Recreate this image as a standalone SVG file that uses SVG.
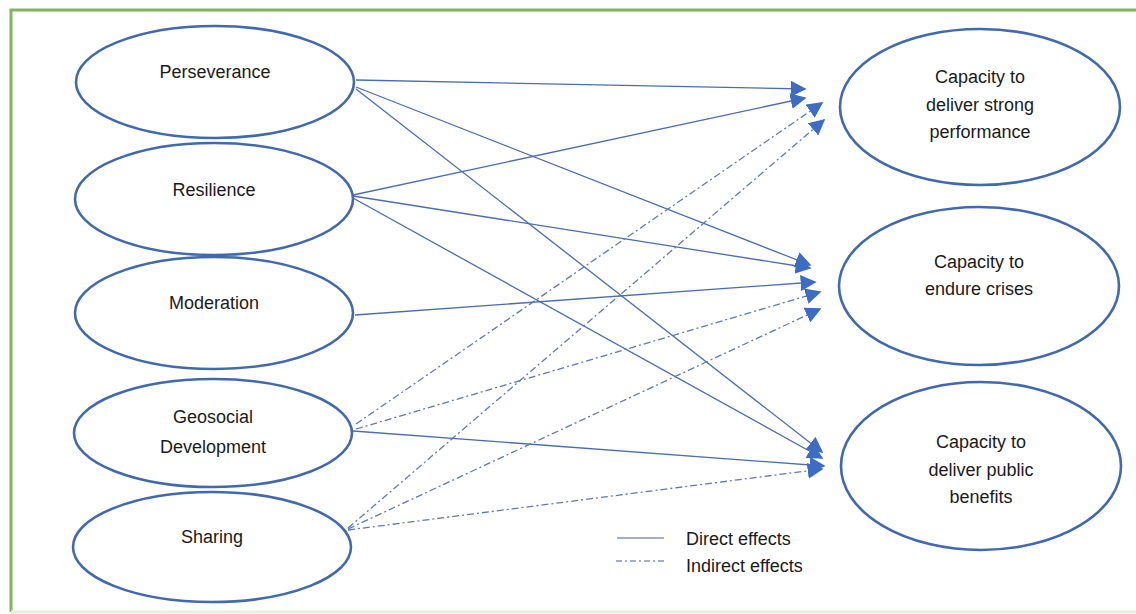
<svg xmlns="http://www.w3.org/2000/svg" width="1136" height="614" viewBox="0 0 1136 614">
  <style>
    .node ellipse { fill: #ffffff; stroke: #4169ad; stroke-width: 2.6; }
    .node text, .legend text { font-family: "Liberation Sans", Arial, sans-serif; font-size: 18px; fill: #1a1a1a; text-anchor: middle; }
    .legend text { text-anchor: start; }
    .direct { fill: none; stroke: #4a6db0; stroke-width: 1.3; marker-end: url(#arrow); }
    .indirect { fill: none; stroke: #5f7ab0; stroke-width: 1.3; stroke-dasharray: 7 3 2 3; marker-end: url(#arrow); }
    .frame { fill: none; stroke: #84b35e; stroke-width: 3; }
  </style>
  <defs>
    <marker id="arrow" viewBox="0 0 10 10" refX="9" refY="5" markerWidth="16" markerHeight="16" markerUnits="userSpaceOnUse" orient="auto">
      <path d="M0,0 L10,5 L0,10 Z" fill="#3d6cc4"/>
    </marker>
  </defs>

  <rect x="0" y="0" width="1136" height="614" fill="#ffffff"/>
  <!-- frame: top and left edges, faint bottom edge -->
  <path class="frame" d="M11,612 L11,10 L1136,10"/>
  <line x1="11" y1="612" x2="1136" y2="612" stroke="#e3f0dc" stroke-width="3"/>

  <!-- connectors -->
  <g id="connectors">
    <!-- direct effects -->
    <path class="direct" d="M356,80 L805,89"/>
    <path class="direct" d="M356,87 L810,265"/>
    <path class="direct" d="M356,89 L822,452"/>
    <path class="direct" d="M353,195 L805,98"/>
    <path class="direct" d="M353,196 L810,268"/>
    <path class="direct" d="M353,198 L822,458"/>
    <path class="direct" d="M355,315 L815,282"/>
    <path class="direct" d="M353,431 L824,466"/>
    <!-- indirect effects -->
    <path class="indirect" d="M356,424 L822,103"/>
    <path class="indirect" d="M356,429 L820,292"/>
    <path class="indirect" d="M348,528 L824,120"/>
    <path class="indirect" d="M348,529 L820,309"/>
    <path class="indirect" d="M348,530 L822,469"/>
  </g>

  <!-- source constructs -->
  <g id="perseverance" class="node">
    <ellipse cx="215" cy="82" rx="139" ry="56"/>
    <text x="215" y="78">Perseverance</text>
  </g>
  <g id="resilience" class="node">
    <ellipse cx="214" cy="199" rx="139" ry="56"/>
    <text x="214" y="196">Resilience</text>
  </g>
  <g id="moderation" class="node">
    <ellipse cx="214" cy="313" rx="139" ry="56"/>
    <text x="214" y="309">Moderation</text>
  </g>
  <g id="geosocial" class="node">
    <ellipse cx="213" cy="433" rx="139" ry="54"/>
    <text x="213" y="423">Geosocial</text>
    <text x="213" y="453">Development</text>
  </g>
  <g id="sharing" class="node">
    <ellipse cx="212" cy="547" rx="139" ry="55"/>
    <text x="212" y="543">Sharing</text>
  </g>

  <!-- outcome constructs -->
  <g id="strong-performance" class="node">
    <ellipse cx="980" cy="107" rx="140" ry="78"/>
    <text x="980" y="83">Capacity to</text>
    <text x="980" y="111">deliver strong</text>
    <text x="980" y="138">performance</text>
  </g>
  <g id="endure-crises" class="node">
    <ellipse cx="979" cy="286" rx="140" ry="79"/>
    <text x="979" y="268">Capacity to</text>
    <text x="979" y="295">endure crises</text>
  </g>
  <g id="public-benefits" class="node">
    <ellipse cx="981" cy="466" rx="140" ry="84"/>
    <text x="981" y="448">Capacity to</text>
    <text x="981" y="476">deliver public</text>
    <text x="981" y="503">benefits</text>
  </g>

  <!-- legend -->
  <g id="legend" class="legend">
    <line x1="617" y1="538" x2="664" y2="538" stroke="#8893c0" stroke-width="1.4"/>
    <line x1="616" y1="561" x2="664" y2="561" stroke="#8893c0" stroke-width="1.4" stroke-dasharray="6 3 2 3"/>
    <text x="686" y="545">Direct effects</text>
    <text x="686" y="572">Indirect effects</text>
  </g>
</svg>
